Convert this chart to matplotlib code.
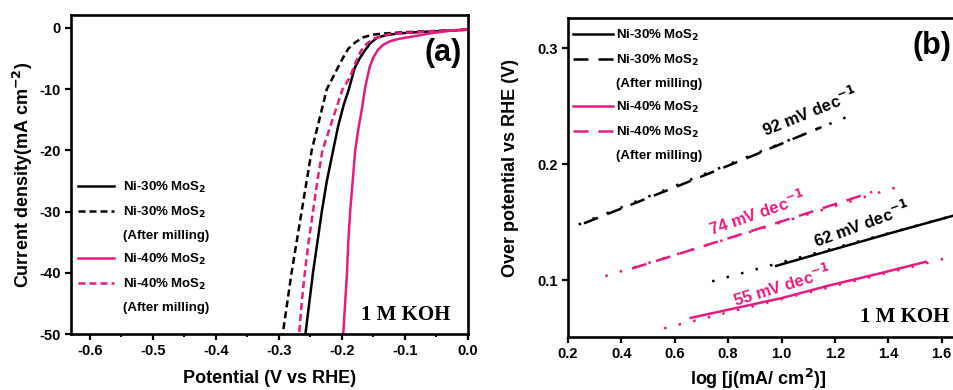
import numpy as np
import matplotlib
matplotlib.use('Agg')
import matplotlib.pyplot as plt
from matplotlib.lines import Line2D

plt.rcParams['font.family'] = 'Liberation Sans'
plt.rcParams['font.weight'] = 'bold'
plt.rcParams['axes.unicode_minus'] = False
plt.rcParams['mathtext.default'] = 'bf'

PINK = '#e8197f'

# ---- (a) LSV curves, potential (V vs RHE) / current density (mA cm-2)
v_ni30 = [0.0, -0.04, -0.08, -0.11, -0.13, -0.144, -0.155, -0.163, -0.172, -0.180,
          -0.189, -0.197, -0.206, -0.214, -0.224, -0.232, -0.239, -0.246, -0.252, -0.258]
j_ni30 = [-0.3, -0.5, -0.7, -0.9, -1.2, -1.6, -2.5, -3.6, -5.0, -6.6,
          -10.0, -12.5, -16.0, -20.0, -25.0, -30.0, -35.0, -40.0, -45.0, -50.0]

v_ni30_m = [0.0, -0.05, -0.1, -0.13, -0.15, -0.165, -0.178, -0.190, -0.200, -0.210,
            -0.218, -0.224, -0.236, -0.248, -0.256, -0.264, -0.272, -0.280, -0.287, -0.294]
j_ni30_m = [-0.3, -0.5, -0.7, -0.9, -1.1, -1.5, -2.3, -3.4, -5.2, -7.2,
            -8.8, -10.0, -15.0, -20.0, -25.0, -30.0, -35.0, -40.0, -45.0, -50.0]

v_ni40 = [0.0, -0.03, -0.06, -0.087, -0.11, -0.124, -0.135, -0.143, -0.150, -0.156,
          -0.163, -0.168, -0.174, -0.179, -0.183, -0.187, -0.190, -0.192, -0.195, -0.198]
j_ni40 = [-0.2, -0.5, -0.9, -1.4, -1.8, -2.2, -2.8, -3.6, -4.8, -6.4,
          -9.6, -13.0, -16.5, -20.0, -25.0, -30.0, -35.0, -40.0, -45.0, -50.0]

v_ni40_m = [0.0, -0.05, -0.1, -0.129, -0.148, -0.160, -0.170, -0.179, -0.187, -0.199,
            -0.207, -0.215, -0.231, -0.239, -0.246, -0.253, -0.259, -0.264, -0.268]
j_ni40_m = [-0.3, -0.5, -0.8, -1.1, -1.7, -2.5, -3.8, -5.8, -8.0, -10.0,
            -12.5, -15.0, -20.0, -25.0, -30.0, -35.0, -40.0, -45.0, -50.0]

# ---- (b) Tafel plots: measured segment + linear fit line
ni30_x = [0.98, 1.2, 1.4, 1.65]
ni30_y = [0.1123, 0.1268, 0.1400, 0.1560]
ni30_fit_x = [0.74, 1.65]
ni30_fit_y = [0.0990, 0.1560]

ni30m_x = [0.26, 0.6, 0.9, 1.15]
ni30m_y = [0.1490, 0.1800, 0.2080, 0.2320]
ni30m_fit_x = [0.24, 1.27]
ni30m_fit_y = [0.1480, 0.2430]

ni40_x = [0.66, 0.8, 1.0, 1.18, 1.38, 1.54]
ni40_y = [0.0675, 0.0745, 0.0845, 0.0955, 0.1065, 0.1158]
ni40_fit_x = [0.56, 1.645]
ni40_fit_y = [0.0585, 0.1205]

ni40m_x = [0.44, 0.8, 1.1, 1.34]
ni40m_y = [0.1100, 0.1360, 0.1580, 0.1760]
ni40m_fit_x = [0.34, 1.43]
ni40m_fit_y = [0.1035, 0.1800]

labels = ['Ni-30% MoS$_2$', 'Ni-30% MoS$_2$', '(After milling)',
          'Ni-40% MoS$_2$', 'Ni-40% MoS$_2$', '(After milling)']

fig = plt.figure(figsize=(9.54, 3.9), dpi=100)

def style_axes(ax):
    for s in ax.spines.values():
        s.set_linewidth(1.9)
    ax.tick_params(which='major', direction='out', length=4.5, width=1.6, labelsize=10.5, pad=3)
    ax.tick_params(which='minor', direction='out', length=2.5, width=1.4)
    for t in ax.get_xticklabels() + ax.get_yticklabels():
        t.set_fontweight('bold')

# ---------- panel (a)
ax1 = fig.add_axes([71/954, 1-334/390, 397/954, 319/390])
lw = 1.8
ax1.plot(v_ni30, j_ni30, color='black', lw=lw)
ax1.plot(v_ni30_m, j_ni30_m, color='black', lw=lw, dashes=(2.8, 1.6))
ax1.plot(v_ni40, j_ni40, color=PINK, lw=lw)
ax1.plot(v_ni40_m, j_ni40_m, color=PINK, lw=lw, dashes=(2.8, 1.6))
ax1.set_xlim(-0.63, 0.0)
ax1.set_ylim(-50, 2.1)
ax1.set_xticks(np.arange(-0.6, 0.01, 0.1))
ax1.set_xticks(np.arange(-0.55, 0.0, 0.1), minor=True)
ax1.set_xticklabels(['-0.6', '-0.5', '-0.4', '-0.3', '-0.2', '-0.1', '0.0'])
ax1.set_yticks([0, -10, -20, -30, -40, -50])
style_axes(ax1)
ax1.set_xlabel('Potential (V vs RHE)', fontsize=13, fontweight='bold', labelpad=8)
ax1.set_ylabel('Current density(mA cm$^{-2}$)', fontsize=13, fontweight='bold', labelpad=3)
ax1.text(-0.0397, -4.1, '(a)', fontsize=22, fontweight='bold', ha='center', va='center')
ax1.text(-0.0984, -46.9, '1 M KOH', fontsize=15, fontweight='bold', ha='center', va='center',
         family='Liberation Serif')

h1 = [Line2D([], [], color='black', lw=lw),
      Line2D([], [], color='black', lw=lw, dashes=(2.8, 1.6)),
      Line2D([], [], color='none'),
      Line2D([], [], color=PINK, lw=lw),
      Line2D([], [], color=PINK, lw=lw, dashes=(2.8, 1.6)),
      Line2D([], [], color='none')]
ax1.legend(h1, labels, loc='center left', bbox_to_anchor=(0.018, 0.274), frameon=False,
           handlelength=2.7, handletextpad=0.7, labelspacing=0.75,
           borderpad=0, borderaxespad=0, prop={'weight': 'bold', 'size': 9.5})

# ---------- panel (b), axes run past the right edge of the figure
ax2 = fig.add_axes([568/954, 1-337/390, 427/954, 319/390])
dot = (0, (1, 5))
ax2.plot(ni30m_fit_x, ni30m_fit_y, color='black', lw=1.8, ls=dot)
ax2.plot(ni30m_x, ni30m_y, color='black', lw=1.8, dashes=(6, 4))
ax2.plot(ni40m_fit_x, ni40m_fit_y, color=PINK, lw=1.8, ls=dot)
ax2.plot(ni40m_x, ni40m_y, color=PINK, lw=1.8, dashes=(6, 4))
ax2.plot(ni30_fit_x, ni30_fit_y, color='black', lw=1.8, ls=dot)
ax2.plot(ni30_x, ni30_y, color='black', lw=1.8)
ax2.plot(ni40_fit_x, ni40_fit_y, color=PINK, lw=1.8, ls=dot)
ax2.plot(ni40_x, ni40_y, color=PINK, lw=1.8)
ax2.set_xlim(0.2, 1.8)
ax2.set_ylim(0.051, 0.326)
ax2.set_xticks([0.2, 0.4, 0.6, 0.8, 1.0, 1.2, 1.4, 1.6])
ax2.set_xticklabels(['0.2', '0.4', '0.6', '0.8', '1.0', '1.2', '1.4', '1.6'])
ax2.set_yticks([0.1, 0.2, 0.3])
ax2.set_yticklabels(['0.1', '0.2', '0.3'])
style_axes(ax2)
ax2.set_xlabel('log [j(mA/ cm$^2$)]', fontsize=13, fontweight='bold')
ax2.xaxis.set_label_coords(0.445, -0.095)
ax2.set_ylabel('Over potential vs RHE (V)', fontsize=13, fontweight='bold')
ax2.yaxis.set_label_coords(-0.115, 0.53)

ax2.text(1.106, 0.245, '92 mV dec$^{-1}$', color='black', fontsize=12, fontweight='bold',
         ha='center', va='center', rotation=22)
ax2.text(0.908, 0.158, '74 mV dec$^{-1}$', color=PINK, fontsize=12, fontweight='bold',
         ha='center', va='center', rotation=19)
ax2.text(1.301, 0.148, '62 mV dec$^{-1}$', color='black', fontsize=12, fontweight='bold',
         ha='center', va='center', rotation=20)
ax2.text(1.0, 0.0957, '55 mV dec$^{-1}$', color=PINK, fontsize=12, fontweight='bold',
         ha='center', va='center', rotation=17)
ax2.text(1.462, 0.068, '1 M KOH', fontsize=15, fontweight='bold', ha='center', va='center',
         family='Liberation Serif')
ax2.text(1.49, 0.302, '(b)', fontsize=22, fontweight='bold', ha='left', va='center')

h2 = [Line2D([], [], color='black', lw=1.8),
      Line2D([], [], color='black', lw=1.8, dashes=(6, 4)),
      Line2D([], [], color='none'),
      Line2D([], [], color=PINK, lw=1.8),
      Line2D([], [], color=PINK, lw=1.8, dashes=(6, 4)),
      Line2D([], [], color='none')]
ax2.legend(h2, labels, loc='center left', bbox_to_anchor=(0.012, 0.759), frameon=False,
           handlelength=3.0, handletextpad=0.25, labelspacing=0.75,
           borderpad=0, borderaxespad=0, prop={'weight': 'bold', 'size': 9.5})

fig.savefig('out.png', dpi=100)
